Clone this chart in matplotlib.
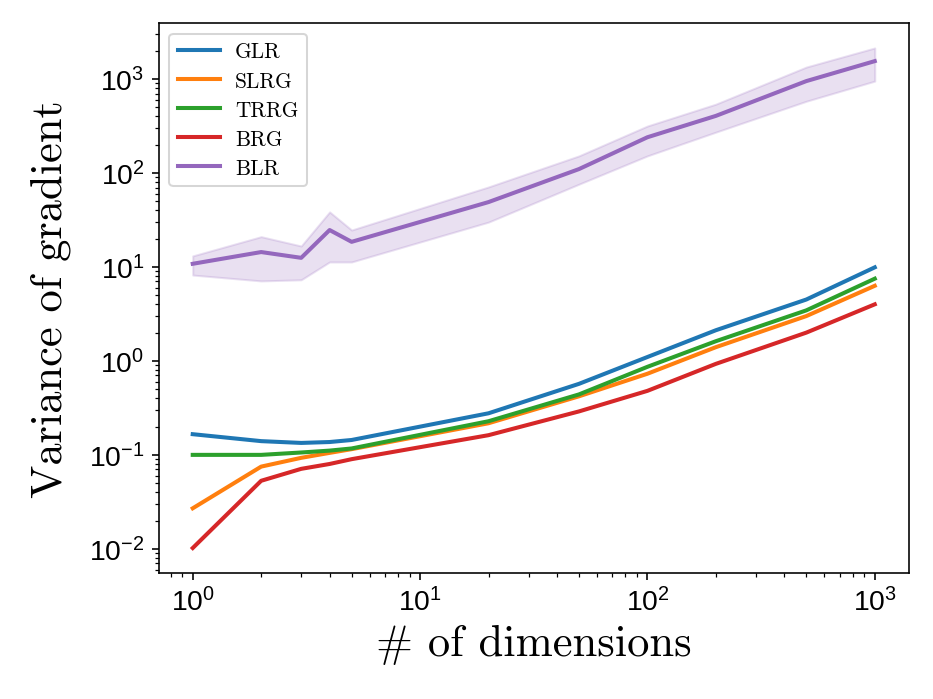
import matplotlib

matplotlib.use("Agg")
import matplotlib.pyplot as plt

plt.rcParams["font.family"] = ["Liberation Sans", "DejaVu Sans"]

dims = [1, 2, 3, 4, 5, 20, 50, 100, 200, 500, 1000]

glr = [0.166, 0.140, 0.134, 0.137, 0.144, 0.277, 0.57, 1.1, 2.12, 4.5, 9.9]
slrg = [0.027, 0.075, 0.093, 0.105, 0.115, 0.217, 0.42, 0.73, 1.4, 3.0, 6.3]
trrg = [0.100, 0.100, 0.106, 0.111, 0.117, 0.228, 0.44, 0.865, 1.62, 3.45, 7.5]
brg = [0.0102, 0.053, 0.071, 0.080, 0.090, 0.162, 0.29, 0.48, 0.93, 2.0, 4.0]
blr = [10.8, 14.4, 12.5, 24.7, 18.5, 49, 110, 240, 405, 950, 1550]
blr_low = [8.2, 7.1, 7.3, 11.3, 11.3, 30, 76, 152, 272, 580, 950]
blr_high = [13.1, 21, 16.7, 38.5, 24.7, 71, 152, 316, 540, 1340, 2140]

series = [("GLR", glr), ("SLRG", slrg), ("TRRG", trrg), ("BRG", brg), ("BLR", blr)]

fig, ax = plt.subplots(figsize=(6.4, 4.8), dpi=145.8)
fig.subplots_adjust(left=0.170, right=0.974, bottom=0.180, top=0.966)

for i, (name, vals) in enumerate(series):
    ax.plot(dims, vals, color=f"C{i}", linewidth=2, label=name)
ax.fill_between(dims, blr_low, blr_high, color="C4", alpha=0.2)

ax.set_xscale("log")
ax.set_yscale("log")
ax.tick_params(labelsize=14)
ax.set_xlabel("# of dimensions", fontsize=22, family="cmr10")
ax.set_ylabel("Variance of gradient", fontsize=22, family="cmr10", labelpad=9)
ax.legend(loc="upper left", labelspacing=0.45, handletextpad=0.7,
          prop={"family": "cmr10", "size": 10.5})

fig.savefig("out.png", dpi=145.8)
